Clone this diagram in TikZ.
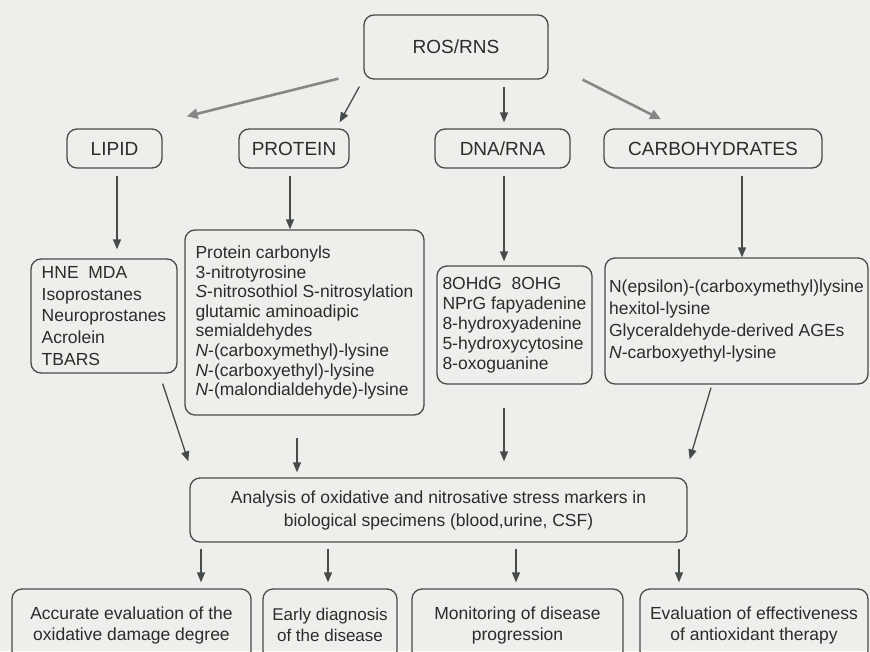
\documentclass[tikz,border=0pt]{standalone}
\usepackage{fontspec}
\setmainfont{Liberation Sans}
\usetikzlibrary{arrows.meta,calc}

\definecolor{paper}{RGB}{238,238,235}
\definecolor{linegray}{RGB}{70,76,76}
\definecolor{inkgray}{RGB}{42,45,45}
\definecolor{softgray}{RGB}{135,135,135}

\tikzset{
	box/.style={draw=linegray, line width=1.3pt, rounded corners=10pt, text=inkgray, inner sep=5pt},
	label box/.style={box, font=\fontsize{19}{23}\selectfont},
	list box/.style={box, align=left},
	out box/.style={box, align=center, font=\fontsize{17.5}{21}\selectfont},
	arr/.style={draw=linegray, line width=1.3pt, -{Triangle[length=10pt,width=8pt]}},
	wide arr/.style={draw=softgray, line width=2.6pt, -{Triangle[length=11pt,width=10pt]}}
}

\begin{document}
\begin{tikzpicture}[x=1pt,y=-1pt]
	\useasboundingbox (0,0) rectangle (870,651);
	\clip (0,0) rectangle (870,651);
	\fill[paper] (0,0) rectangle (870,651);

	\node[label box, minimum width=184pt, minimum height=64pt] (ros) at (456,47) {ROS/RNS};

	\node[label box, minimum width=95pt, minimum height=39pt] (lipid) at (114.5,148.5) {LIPID};
	\node[label box, minimum width=110pt, minimum height=39pt] (protein) at (294,148.5) {PROTEIN};
	\node[label box, minimum width=135pt, minimum height=39pt] (dnarna) at (502.5,148.5) {DNA/RNA};
	\node[label box, minimum width=218pt, minimum height=39pt] (carbo) at (713,148.5) {CARBOHYDRATES};

	\node[list box, minimum width=146pt, minimum height=114pt, font=\fontsize{17.5}{21.7}\selectfont] (lipids) at (104,316) {HNE\ \ MDA\\Isoprostanes\\Neuroprostanes\\Acrolein\\TBARS};
	\node[list box, minimum width=239pt, minimum height=185pt, font=\fontsize{17.5}{19.6}\selectfont] (proteins) at (304.5,322.5) {Protein carbonyls\\3-nitrotyrosine\\\textit{S}-nitrosothiol S-nitrosylation\\glutamic aminoadipic\\semialdehydes\\\textit{N}-(carboxymethyl)-lysine\\\textit{N}-(carboxyethyl)-lysine\\\textit{N}-(malondialdehyde)-lysine};
	\node[list box, minimum width=155pt, minimum height=118pt, font=\fontsize{17.5}{20}\selectfont] (dnas) at (514.5,325) {8OHdG\ \ 8OHG\\NPrG fapyadenine\\8-hydroxyadenine\\5-hydroxycytosine\\8-oxoguanine};
	\node[list box, minimum width=263pt, minimum height=126pt, inner sep=3pt, font=\fontsize{17.5}{22}\selectfont] (carbs) at (736.5,321) {N(epsilon)-(carboxymethyl)lysine\\hexitol-lysine\\Glyceraldehyde-derived AGEs\\\textit{N}-carboxyethyl-lysine};

	\node[out box, minimum width=497pt, minimum height=64pt, font=\fontsize{17.5}{23}\selectfont] (analysis) at (438.5,510) {Analysis of oxidative and nitrosative stress markers in\\biological specimens (blood,urine, CSF)};

	\node[out box, minimum width=239pt, minimum height=72pt] (accurate) at (131.5,625) {Accurate evaluation of the\\oxidative damage degree};
	\node[out box, minimum width=134pt, minimum height=72pt, inner sep=1.5pt, font=\fontsize{17}{21}\selectfont] (early) at (330,625) {Early diagnosis\\of the disease};
	\node[out box, minimum width=211pt, minimum height=72pt] (monitor) at (517.5,625) {Monitoring of disease\\progression};
	\node[out box, minimum width=228pt, minimum height=72pt] (therapy) at (754,625) {Evaluation of effectiveness\\of antioxidant therapy};

	\draw[wide arr] ($(ros.south west)+(-25,-1)$) -- ($(lipid.north east)+(24,-12)$);
	\draw[arr] ($(ros.south west)+(-4,7)$) -- ($(protein.north east)+(-10,-6)$);
	\draw[arr] ($(ros.south)+(48,7)$) -- ($(dnarna.north)+(1.5,-6)$);
	\draw[wide arr] ($(ros.south east)+(34,0)$) -- ($(carbo.north)+(-52,-9)$);

	\draw[arr] ($(lipid.south)+(2.5,7)$) -- ($(lipids.north)+(13,-9)$);
	\draw[arr] ($(protein.south)+(-4,7)$) -- ($(proteins.north)+(-14.5,0)$);
	\draw[arr] ($(dnarna.south)+(1.5,7)$) -- ($(dnas.north)+(-10.5,-4)$);
	\draw[arr] ($(carbo.south)+(29,7)$) -- ($(carbs.north)+(5.5,0)$);

	\draw[arr] ($(lipids.south east)+(-15,10)$) -- ($(analysis.north west)+(-1,-16)$);
	\draw[arr] ($(proteins.south)+(-7.5,22)$) -- ($(analysis.north)+(-141.5,-5)$);
	\draw[arr] ($(dnas.south)+(-10.5,23)$) -- ($(analysis.north)+(65.5,-16)$);
	\draw[arr] ($(carbs.south)+(-25.5,3)$) -- ($(analysis.north east)+(2,-18)$);

	\draw[arr] ($(analysis.south)+(-237.5,6)$) -- ($(accurate.north)+(69.5,-6)$);
	\draw[arr] ($(analysis.south)+(-110.5,6)$) -- ($(early.north)+(-2,-6)$);
	\draw[arr] ($(analysis.south)+(77.5,6)$) -- ($(monitor.north)+(-1.5,-6)$);
	\draw[arr] ($(analysis.south)+(240.5,6)$) -- ($(therapy.north)+(-75,-6)$);
\end{tikzpicture}
\end{document}
